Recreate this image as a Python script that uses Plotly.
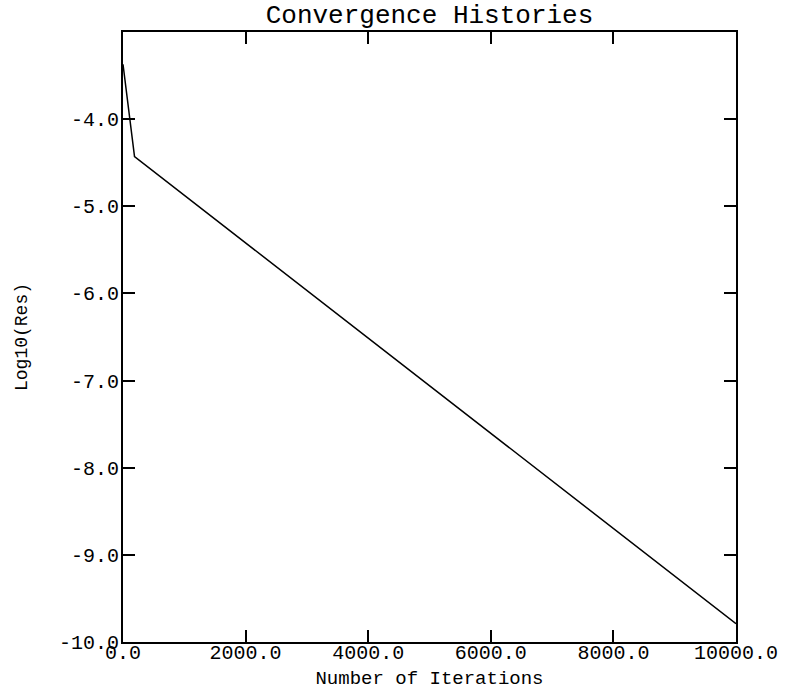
import plotly.graph_objects as go

# Data
iterations = [0, 188, 10000]
log_res = [-3.37, -4.43, -9.79]

x_tickvals = [0, 2000, 4000, 6000, 8000, 10000]
x_ticktext = ["0.0", "2000.0", "4000.0", "6000.0", "8000.0", "10000.0"]
y_tickvals = [-10, -9, -8, -7, -6, -5, -4]
y_ticktext = ["-10.0", "-9.0", "-8.0", "-7.0", "-6.0", "-5.0", "-4.0"]

FONT = "Courier New, Liberation Mono, monospace"

fig = go.Figure()
fig.add_trace(go.Scatter(
    x=iterations, y=log_res, mode="lines",
    line=dict(color="black", width=1.5),
    showlegend=False, hoverinfo="skip",
))

axis_common = dict(
    showline=True, linecolor="black", linewidth=2, mirror="ticks",
    ticks="inside", ticklen=12, tickwidth=1.5, tickcolor="black",
    showgrid=False, zeroline=False,
    tickfont=dict(family=FONT, size=20, color="black"),
)

fig.update_layout(
    width=790, height=692,
    margin=dict(l=123, r=54, t=32, b=50),
    paper_bgcolor="white", plot_bgcolor="white",
    title=dict(
        text="Convergence Histories",
        font=dict(family=FONT, size=26, color="black"),
        x=0.5, xref="paper", xanchor="center",
        y=0.998, yref="container", yanchor="top", pad=dict(t=3),
    ),
    xaxis=dict(
        range=[0, 10000], tickvals=x_tickvals, ticktext=x_ticktext,
        ticklabelstandoff=-9,
        title=dict(text="Number of Iterations",
                   font=dict(family=FONT, size=19, color="black"), standoff=7),
        automargin=False,
        **axis_common,
    ),
    yaxis=dict(
        range=[-10, -3], tickvals=y_tickvals, ticktext=y_ticktext,
        ticklabelstandoff=-2,
        title=dict(text="Log10(Res)",
                   font=dict(family=FONT, size=18, color="black"), standoff=27),
        automargin=False,
        **axis_common,
    ),
)

fig.write_html("out.html")
